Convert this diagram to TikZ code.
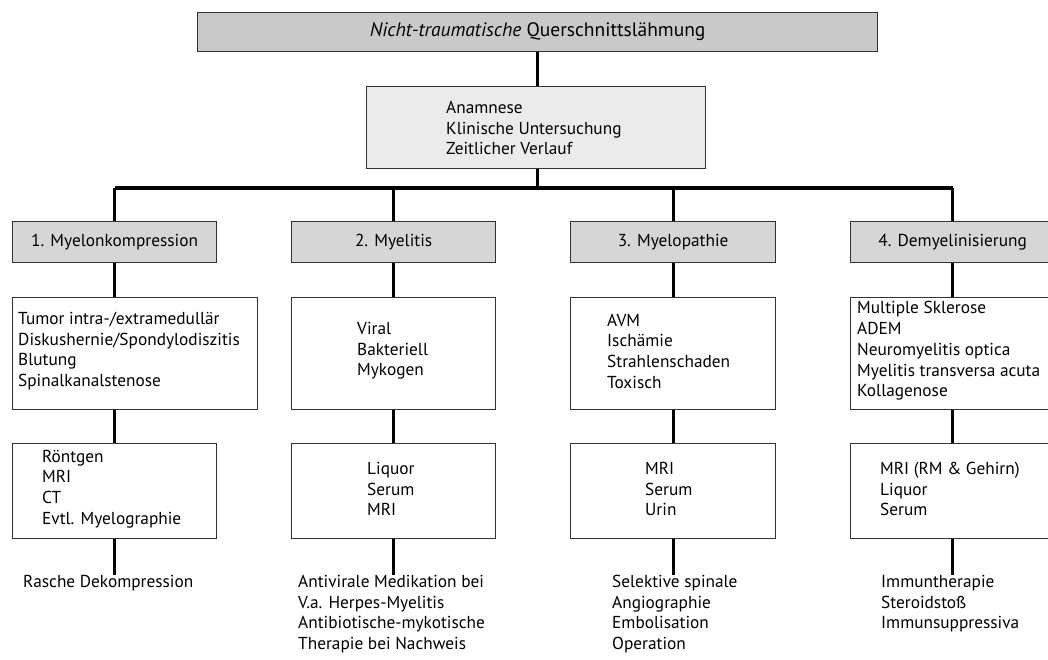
\documentclass[tikz,border=0pt]{standalone}
\usepackage{fontspec}
\setmainfont{PT Sans}
\begin{document}
\begin{tikzpicture}[x=1pt,y=-1pt,
  every node/.style={font=\fontsize{17.3}{20.7}\selectfont},
  box/.style={draw=black!80, line width=1.2pt, anchor=north west, inner sep=0pt},
  titlebox/.style={box, fill=black!21},
  catbox/.style={box, fill=black!16},
  anabox/.style={box, fill=black!8},
  txt/.style={align=left, inner sep=0pt, anchor=west},
  btxt/.style={align=left, inner sep=0pt, anchor=north west},
  conn/.style={line width=3pt, black},
  bar/.style={line width=4pt, black}
]
\useasboundingbox (0,0) rectangle (1048,659);
\fill[white] (0,0) rectangle (1048,659);

% title
\node[titlebox, minimum width=680pt, minimum height=39pt] (title) at (197,12) {};
\node[inner sep=0pt, font=\fontsize{19.5}{22}\selectfont] (titletxt) at (title.center) {\textit{Nicht-traumatische} Querschnittslähmung};

% anamnese
\node[anabox, minimum width=339pt, minimum height=82pt] (ana) at (366,86) {};
\node[txt] (anatxt) at (446,128) {Anamnese\\Klinische Untersuchung\\Zeitlicher Verlauf};

\draw[conn] (title.south -| 537,0) -- (ana.north -| 537,0);
\coordinate (barmid) at (537,188);
\draw[conn] (ana.south -| barmid) -- (barmid);

% categories
\node[catbox, minimum width=204pt, minimum height=41pt] (c1) at (12,221) {};
\node[catbox, minimum width=204pt, minimum height=41pt] (c2) at (291,221) {};
\node[catbox, minimum width=205pt, minimum height=41pt] (c3) at (570,221) {};
\node[catbox, minimum width=204pt, minimum height=41pt] (c4) at (850,221) {};
\node[inner sep=0pt] (c1t) at (c1.center) {1. Myelonkompression};
\node[inner sep=0pt] (c2t) at (c2.center) {2. Myelitis};
\node[inner sep=0pt] (c3t) at (c3.center) {3. Myelopathie};
\node[inner sep=0pt] (c4t) at (c4.center) {4. Demyelinisierung};

\coordinate (barL) at (c1.north |- barmid);
\coordinate (barR) at (c4.north |- barmid);
\draw[bar] (barL) -- (barR);
\draw[conn] (barL) -- (c1.north);
\draw[conn] (c2.north |- barmid) -- (c2.north);
\draw[conn] (c3.north |- barmid) -- (c3.north);
\draw[conn] (barR) -- (c4.north);

% row 2
\node[box, minimum width=245pt, minimum height=112pt] (r2a) at (12,297) {};
\node[box, minimum width=204pt, minimum height=112pt] (r2b) at (291,297) {};
\node[box, minimum width=205pt, minimum height=112pt] (r2c) at (570,297) {};
\node[box, minimum width=204pt, minimum height=112pt] (r2d) at (850,297) {};
\node[txt] (r2at) at (18,351) {Tumor intra-/extramedullär\\Diskushernie/Spondylodiszitis\\Blutung\\Spinalkanalstenose};
\node[txt] (r2bt) at (357,351) {Viral\\Bakteriell\\Mykogen};
\node[txt] (r2ct) at (607,351) {AVM\\Ischämie\\Strahlenschaden\\Toxisch};
\node[txt] (r2dt) at (857,351) {Multiple Sklerose\\ADEM\\Neuromyelitis optica\\Myelitis transversa acuta\\Kollagenose};

\draw[conn] (c1.south) -- (c1.south |- r2a.north);
\draw[conn] (c2.south) -- (r2b.north);
\draw[conn] (c3.south) -- (r2c.north);
\draw[conn] (c4.south) -- (r2d.north);

% row 3
\node[box, minimum width=204pt, minimum height=95pt] (r3a) at (12,443) {};
\node[box, minimum width=204pt, minimum height=95pt] (r3b) at (291,443) {};
\node[box, minimum width=205pt, minimum height=95pt] (r3c) at (570,443) {};
\node[box, minimum width=204pt, minimum height=95pt] (r3d) at (850,443) {};
\node[txt] (r3at) at (42,489) {Röntgen\\MRI\\CT\\Evtl. Myelographie};
\node[txt] (r3bt) at (367,489) {Liquor\\Serum\\MRI};
\node[txt] (r3ct) at (645,489) {MRI\\Serum\\Urin};
\node[txt] (r3dt) at (880,489) {MRI (RM \& Gehirn)\\Liquor\\Serum};

\draw[conn] (r2a.south -| c1.south) -- (r3a.north);
\draw[conn] (r2b.south) -- (r3b.north);
\draw[conn] (r2c.south) -- (r3c.north);
\draw[conn] (r2d.south) -- (r3d.north);

% bottom
\node[btxt] (b1) at (23,575) {Rasche Dekompression};
\node[btxt] (b2) at (298,575) {Antivirale Medikation bei\\V.a. Herpes-Myelitis\\Antibiotische-mykotische\\Therapie bei Nachweis};
\node[btxt] (b3) at (612,575) {Selektive spinale\\Angiographie\\Embolisation\\Operation};
\node[btxt] (b4) at (881,575) {Immuntherapie\\Steroidstoß\\Immunsuppressiva};

\draw[conn] (r3a.south) -- (r3a.south |- b1.north);
\draw[conn] (r3b.south) -- (r3b.south |- b2.north);
\draw[conn] (r3c.south) -- (r3c.south |- b3.north);
\draw[conn] (r3d.south) -- (r3d.south |- b4.north);
\end{tikzpicture}
\end{document}
